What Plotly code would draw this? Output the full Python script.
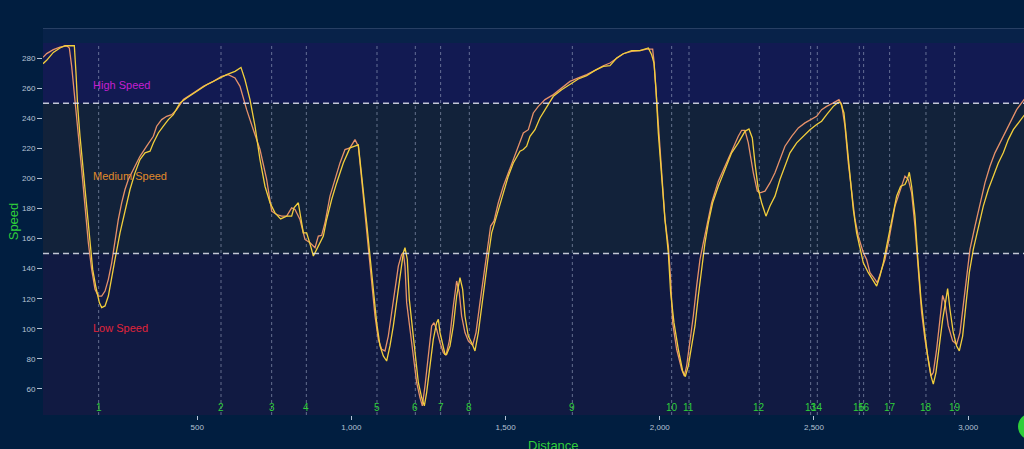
import plotly.graph_objects as go

# ---------------- data ----------------
lap_a_distance = [0, 11.9, 33.5, 55.1, 76.8, 85.4, 93.0, 98.4, 107.0, 114.6, 125.4, 136.2, 147.0, 157.8, 168.6,
    179.4, 190.2, 201.1, 211.9, 222.7, 233.5, 244.3, 255.1, 265.9, 276.7, 292.9, 314.5, 336.2, 357.8, 368.6,
    384.8, 401.0, 417.2, 433.4, 455.0, 487.5, 519.9, 552.3, 579.3, 600.9, 622.6, 638.8, 660.4, 682.0, 703.6,
    725.2, 741.5, 757.6, 773.9, 790.1, 806.3, 817.1, 833.3, 849.5, 865.7, 882.0, 892.8, 903.6, 914.4, 930.6,
    946.8, 963.0, 979.2, 995.4, 1011.7, 1022.5, 1033.3, 1044.1, 1054.9, 1065.7, 1076.5, 1087.3, 1098.1, 1108.9,
    1119.7, 1130.5, 1141.4, 1152.2, 1163.0, 1168.4, 1173.8, 1179.2, 1190.0, 1200.8, 1211.6, 1222.4, 1230.0,
    1238.6, 1249.4, 1260.2, 1267.8, 1276.4, 1287.3, 1298.1, 1306.7, 1317.5, 1330.5, 1341.3, 1349.9, 1357.5,
    1368.3, 1379.1, 1393.2, 1404.0, 1416.9, 1427.8, 1440.7, 1451.5, 1462.3, 1476.4, 1492.6, 1508.8, 1525.0,
    1546.7, 1557.5, 1573.7, 1589.9, 1606.1, 1627.8, 1654.8, 1681.8, 1708.8, 1735.8, 1762.9, 1789.9, 1816.9,
    1838.5, 1860.1, 1881.7, 1908.8, 1935.8, 1957.4, 1976.9, 1981.2, 1987.7, 1995.2, 2006.0, 2016.8, 2027.7,
    2035.2, 2041.7, 2054.7, 2070.9, 2079.5, 2087.1, 2097.9, 2108.7, 2119.5, 2130.3, 2141.1, 2151.9, 2168.2,
    2189.8, 2211.4, 2233.0, 2254.6, 2265.4, 2276.2, 2287.0, 2303.3, 2316.2, 2324.9, 2341.1, 2357.3, 2373.5,
    2389.7, 2405.9, 2427.6, 2449.2, 2470.8, 2492.4, 2508.6, 2524.8, 2541.0, 2562.7, 2581.0, 2589.7, 2600.5,
    2611.3, 2622.1, 2632.9, 2643.7, 2659.9, 2670.7, 2681.5, 2697.8, 2705.3, 2719.4, 2730.2, 2741.0, 2751.8,
    2762.6, 2773.4, 2784.2, 2795.0, 2805.8, 2816.6, 2827.4, 2838.3, 2849.1, 2859.9, 2870.7, 2879.3, 2886.9,
    2897.7, 2908.5, 2917.2, 2924.7, 2935.5, 2949.6, 2962.5, 2973.4, 2984.2, 2995.0, 3005.8, 3022.0, 3038.2,
    3054.4, 3070.6, 3086.8, 3103.1, 3119.3, 3135.5, 3157.1, 3173.3, 3180.9, 3200]
lap_a_speed = [280.5, 283.0, 285.6, 287.3, 288.2, 286.7, 274.5, 263.4, 247.9, 230.2, 205.9, 181.6, 157.2, 139.5, 126.2,
    121.8, 121.8, 125.1, 132.9, 143.9, 159.4, 172.7, 183.8, 192.6, 199.3, 205.9, 214.7, 221.4, 228.0, 234.7,
    239.1, 241.3, 242.4, 245.7, 252.4, 256.8, 261.2, 264.5, 267.9, 269.0, 266.8, 261.2, 245.7, 232.4, 219.2,
    199.3, 178.2, 176.0, 174.9, 174.9, 180.4, 179.3, 172.7, 159.4, 157.2, 153.9, 161.6, 162.1, 170.5, 188.2,
    199.3, 210.3, 219.2, 220.3, 225.8, 221.4, 199.3, 177.1, 155.0, 130.6, 108.5, 93.0, 86.4, 85.3,
    95.2, 110.7, 126.2, 141.7, 149.5, 150.6, 141.7, 117.4, 99.7, 79.8, 64.3, 54.3, 48.8,
    62.0, 82.0, 101.9, 104.1, 99.7, 90.8, 84.2, 82.4, 91.9, 115.2, 131.8, 124.0, 108.5,
    97.5, 91.9, 89.0, 97.5, 117.4, 132.9, 152.8, 168.3, 171.6, 183.8, 194.8, 203.7, 212.5,
    224.7, 230.2, 232.4, 243.5, 247.9, 252.4, 255.7, 260.1, 264.5, 266.8, 269.0, 271.8, 274.9,
    276.7, 280.0, 282.9, 284.5, 284.9, 286.0, 286.0, 277.8, 259.0, 230.2, 199.3, 172.7, 155.0,
    132.9, 104.1, 86.4, 73.1, 68.7, 75.3, 90.8, 108.5, 128.4, 146.1, 157.2, 168.3, 183.8,
    198.1, 208.1, 219.2, 228.0, 232.0, 232.0, 223.6, 203.7, 191.5, 190.4, 191.5, 197.0, 203.7,
    212.5, 221.4, 228.0, 233.6, 236.9, 239.1, 241.3, 245.7, 247.9, 250.2, 252.4, 249.0, 234.7,
    210.3, 190.4, 172.7, 161.6, 150.6, 146.1, 137.3, 132.9, 130.6, 139.5, 146.1, 157.2, 168.3,
    181.6, 188.2, 194.8, 201.5, 199.3, 190.4, 168.3, 137.3, 110.7, 93.0, 79.8, 68.7, 70.9,
    86.4, 106.3, 122.2, 117.4, 101.9, 91.9, 89.7, 97.5, 117.4, 137.3, 152.8, 168.3, 183.8,
    197.0, 208.1, 217.0, 223.6, 230.2, 236.9, 245.7, 250.2, 252.4, 256.0]

lap_b_distance = [0, 11.9, 33.5, 55.1, 71.4, 101.6, 107.0, 112.4, 120.0, 130.8, 141.6, 152.4, 161.1, 171.9, 182.7,
    190.2, 201.1, 211.9, 222.7, 233.5, 249.7, 265.9, 282.1, 298.3, 314.5, 330.8, 347.0, 357.8, 374.0, 390.2,
    406.4, 422.6, 444.2, 465.9, 498.3, 530.7, 563.1, 595.5, 622.6, 642.0, 655.0, 671.2, 687.4, 703.6, 719.8,
    736.1, 752.3, 770.6, 790.1, 806.3, 813.9, 827.9, 844.1, 854.9, 867.9, 876.6, 887.4, 903.6, 909.0, 919.8,
    936.0, 952.2, 973.8, 995.4, 1011.7, 1022.5, 1030.0, 1038.7, 1049.5, 1060.3, 1071.1, 1081.9, 1092.7,
    1103.5, 1114.3, 1125.1, 1136.0, 1146.8, 1157.6, 1168.4, 1173.8, 1181.3, 1187.8, 1195.4, 1206.2, 1217.0,
    1227.8, 1236.5, 1244.0, 1254.8, 1265.6, 1276.4, 1281.9, 1287.3, 1295.9, 1303.5, 1308.9, 1319.7, 1330.5,
    1341.3, 1352.1, 1360.8, 1368.3, 1379.1, 1389.9, 1400.7, 1411.6, 1422.4, 1433.2, 1444.0, 1454.8, 1465.6,
    1476.4, 1492.6, 1508.8, 1525.0, 1546.7, 1557.5, 1568.3, 1579.1, 1595.3, 1611.5, 1633.2, 1654.8, 1681.8,
    1708.8, 1735.8, 1762.9, 1789.9, 1816.9, 1838.5, 1860.1, 1881.7, 1908.8, 1935.8, 1962.8, 1973.6, 1981.2,
    1987.7, 1995.2, 2006.0, 2016.8, 2027.7, 2035.2, 2046.0, 2060.1, 2074.1, 2082.8, 2092.5, 2103.3, 2114.1,
    2124.9, 2135.7, 2146.5, 2157.4, 2171.4, 2189.8, 2211.4, 2233.0, 2254.6, 2276.2, 2289.2, 2300.0, 2308.6,
    2319.5, 2330.3, 2344.3, 2357.3, 2373.5, 2389.7, 2405.9, 2422.1, 2443.8, 2465.4, 2487.0, 2508.6, 2524.8,
    2541.0, 2562.7, 2578.9, 2586.4, 2597.2, 2605.9, 2616.7, 2627.5, 2638.3, 2649.1, 2659.9, 2676.1, 2690.2,
    2703.2, 2714.0, 2724.8, 2735.6, 2746.4, 2757.2, 2768.0, 2781.0, 2795.0, 2802.6, 2809.1, 2816.6, 2827.4,
    2836.1, 2846.9, 2857.7, 2868.5, 2879.3, 2886.9, 2895.5, 2906.3, 2917.2, 2928.0, 2933.4, 2940.9, 2951.7,
    2962.5, 2971.2, 2982.0, 2992.8, 3003.6, 3016.6, 3032.8, 3049.0, 3065.2, 3081.4, 3097.7, 3113.9, 3130.1,
    3146.3, 3162.5, 3180.9, 3200]
lap_b_speed = [276.3, 278.5, 283.8, 286.7, 288.2, 288.2, 270.1, 247.9, 228.0, 203.7, 181.6, 155.0, 139.5, 127.3, 117.4,
    114.1, 115.2, 121.8, 132.9, 146.1, 163.8, 179.3, 192.6, 203.7, 212.5, 217.0, 218.1, 223.6, 230.2, 234.7,
    239.1, 242.4, 250.2, 253.5, 257.9, 262.3, 265.6, 269.0, 271.2, 273.8, 265.6, 252.4, 234.7, 212.5, 194.8,
    183.8, 177.1, 173.1, 174.9, 174.9, 180.4, 183.8, 163.8, 163.8, 155.0, 148.4, 152.8, 159.4, 161.6, 172.7,
    186.0, 197.0, 210.3, 220.3, 221.8, 222.3, 208.1, 192.6, 170.5, 148.4, 126.2, 104.1, 88.6,
    82.0, 78.6, 88.6, 101.9, 117.4, 132.9, 150.6, 153.9, 146.1, 119.6, 104.1, 82.0, 64.3,
    54.3, 48.8, 57.6, 75.3, 93.0, 104.1, 106.3, 97.5, 88.6, 83.1, 83.1, 88.6, 101.9,
    121.8, 134.0, 126.2, 108.5, 95.2, 90.8, 85.3, 97.5, 115.2, 132.9, 148.4, 163.8, 171.6,
    179.3, 190.4, 201.5, 210.3, 218.1, 219.2, 221.4, 228.0, 232.4, 240.2, 247.9, 254.6, 259.0,
    262.3, 266.1, 268.3, 271.8, 274.5, 274.9, 280.0, 282.9, 284.9, 284.9, 286.7, 282.2, 276.7,
    259.0, 230.2, 199.3, 172.7, 150.6, 124.0, 104.1, 86.4, 72.0, 68.2, 75.3, 88.6, 101.9,
    121.8, 141.7, 157.2, 170.5, 183.8, 194.8, 205.9, 217.0, 223.6, 231.3, 232.9, 226.9, 210.3,
    192.6, 183.8, 174.9, 181.6, 188.2, 199.3, 208.1, 217.0, 223.6, 228.0, 232.4, 235.8, 238.0,
    242.4, 247.9, 250.6, 250.2, 243.5, 225.8, 199.3, 179.3, 163.8, 152.8, 143.9, 137.3, 132.9,
    128.4, 135.1, 143.9, 155.0, 166.1, 177.1, 188.2, 194.8, 195.9, 199.3, 204.1, 194.8, 174.9,
    148.4, 119.6, 99.7, 82.0, 68.7, 63.2, 70.9, 88.6, 106.3, 119.6, 126.7, 113.0, 97.5,
    88.6, 85.3, 95.2, 115.2, 137.3, 152.8, 168.3, 181.6, 192.6, 201.5, 210.3, 217.0, 225.8,
    232.4, 236.9, 242.4, 247.0]

corner_numbers = list(range(1, 20))
corner_distance = [180.5, 577.2, 741.5, 853.9, 1083.0, 1207.3, 1289.4, 1382.4, 1716.4, 2038.5, 2094.7,
                   2322.7, 2489.2, 2510.8, 2647.0, 2661.0, 2745.3, 2863.1, 2956.1]

zone_names = ["Low Speed", "Medium Speed", "High Speed"]
zone_bounds = [(42.7, 150), (150, 250), (250, 290)]
zone_label_speed = [100.3, 201.9, 262.3]

x_ticks = [500, 1000, 1500, 2000, 2500, 3000]
y_ticks = list(range(60, 300, 20))

# ---------------- style ----------------
X_MAX = 3181
Y_MIN, Y_MAX = 42.7, 300
zone_fill = ["#111a42", "#12223a", "#121a52"]
zone_text_color = ["#e0243a", "#e08a2a", "#c51fd0"]
GREEN = "#2fcf3a"
TICK_COLOR = "#b6c2d4"
PAGE_BG = "#011e40"
FONT = "Liberation Sans, Arial, sans-serif"

fig = go.Figure()

shapes = []
for (lo, hi), col in zip(zone_bounds, zone_fill):
    shapes.append(dict(type="rect", xref="x", yref="y", x0=0, x1=X_MAX, y0=lo, y1=hi,
                       fillcolor=col, line_width=0, layer="below"))
for yv in [50, 100, 200, 300]:
    shapes.append(dict(type="line", xref="paper", yref="y", x0=0, x1=1, y0=yv, y1=yv,
                       line=dict(color="rgba(150,165,195,0.45)", width=1), layer="below"))
for yv in [150, 250]:
    shapes.append(dict(type="line", xref="paper", yref="y", x0=0, x1=1, y0=yv, y1=yv,
                       line=dict(color="rgba(225,228,240,0.85)", width=1.5, dash="6px,4px")))
for cd in corner_distance:
    shapes.append(dict(type="line", xref="x", yref="y", x0=cd, x1=cd, y0=Y_MIN, y1=290,
                       line=dict(color="rgba(170,180,205,0.55)", width=1, dash="3px,3px"), layer="below"))
# partially visible green control at the lower right edge
shapes.append(dict(type="circle", xref="paper", yref="paper", x0=0.9939, x1=1.022, y0=-0.065, y1=0.005,
                   fillcolor=GREEN, line_width=0))

fig.add_trace(go.Scatter(x=lap_a_distance, y=lap_a_speed, mode="lines",
                         line=dict(color="#e6916a", width=1.3), showlegend=False))
fig.add_trace(go.Scatter(x=lap_b_distance, y=lap_b_speed, mode="lines",
                         line=dict(color="#f2cf3c", width=1.3), showlegend=False))

annotations = []
for name, sp, col in zip(zone_names, zone_label_speed, zone_text_color):
    annotations.append(dict(x=155, y=sp, xref="x", yref="y", text=name, showarrow=False,
                            xanchor="left", yanchor="middle", font=dict(color=col, size=11, family=FONT)))
for num, cd in zip(corner_numbers, corner_distance):
    annotations.append(dict(x=cd, y=47.6, xref="x", yref="y", text=str(num), showarrow=False,
                            xanchor="center", yanchor="middle", font=dict(color=GREEN, size=10, family=FONT)))
annotations.append(dict(x=0.52, y=-0.055, xref="paper", yref="paper", text="Distance", showarrow=False,
                        xanchor="center", yanchor="top", font=dict(color=GREEN, size=13, family=FONT)))

fig.update_layout(
    width=1024, height=449,
    margin=dict(l=43, r=0, t=28, b=34),
    paper_bgcolor=PAGE_BG,
    plot_bgcolor="#082249",
    shapes=shapes,
    annotations=annotations,
    showlegend=False,
    font=dict(family=FONT, color=TICK_COLOR),
    xaxis=dict(range=[0, X_MAX], tickvals=x_ticks, tickformat=",", showgrid=False, zeroline=False,
               ticks="outside", ticklen=4, tickcolor=TICK_COLOR, tickfont=dict(size=8, color=TICK_COLOR),
               showline=False),
    yaxis=dict(range=[Y_MIN, Y_MAX], tickvals=y_ticks, showgrid=False, zeroline=False,
               ticks="outside", ticklen=5, tickcolor=TICK_COLOR, tickfont=dict(size=8, color=TICK_COLOR),
               title=dict(text="Speed", font=dict(color=GREEN, size=13, family=FONT), standoff=0),
               showline=False),
)

fig.write_html(
    "out.html",
    config={"displayModeBar": False},
    post_script="document.body.style.margin='0';document.body.style.overflow='hidden';"
                "document.body.style.background='" + PAGE_BG + "';",
)
